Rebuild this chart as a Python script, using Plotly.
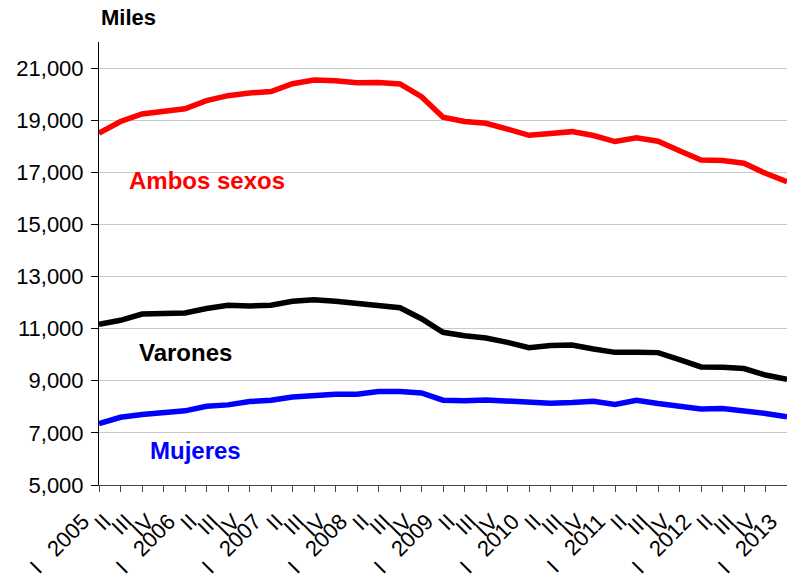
import plotly.graph_objects as go

quarters = ["2005 I", "2005 II", "2005 III", "2005 IV",
            "2006 I", "2006 II", "2006 III", "2006 IV",
            "2007 I", "2007 II", "2007 III", "2007 IV",
            "2008 I", "2008 II", "2008 III", "2008 IV",
            "2009 I", "2009 II", "2009 III", "2009 IV",
            "2010 I", "2010 II", "2010 III", "2010 IV",
            "2011 I", "2011 II", "2011 III", "2011 IV",
            "2012 I", "2012 II", "2012 III", "2012 IV",
            "2013 I"]

NB = "\u00a0"
tick_labels = []
for q in quarters:
    year, roman = q.split(" ")
    tick_labels.append(("I" + NB * 3 + year) if roman == "I" else roman)

ambos_sexos = [18500, 18950, 19240, 19350, 19440, 19750, 19940, 20040,
               20100, 20400, 20540, 20510, 20440, 20450, 20390, 19900,
               19110, 18950, 18880, 18660, 18420, 18490, 18560, 18410,
               18180, 18320, 18190, 17830, 17470, 17450, 17350, 16960,
               16640]
varones = [11170, 11320, 11560, 11575, 11600, 11770, 11900, 11870,
           11900, 12050, 12110, 12050, 11980, 11900, 11800, 11380,
           10860, 10730, 10640, 10475, 10270, 10350, 10370, 10220,
           10090, 10090, 10080, 9810, 9530, 9520, 9470, 9220,
           9060]
mujeres = [7360, 7600, 7705, 7790, 7845, 8020, 8075, 8200,
           8255, 8380, 8445, 8480, 8485, 8585, 8585, 8535,
           8255, 8230, 8265, 8215, 8165, 8140, 8165, 8215,
           8090, 8255, 8125, 8025, 7920, 7935, 7860, 7745,
           7615]

series = [("Ambos sexos", ambos_sexos, "#ff0000"),
          ("Varones", varones, "#000000"),
          ("Mujeres", mujeres, "#0000ff")]

y_ticks = [5000, 7000, 9000, 11000, 13000, 15000, 17000, 19000, 21000]

FONT = "Liberation Sans, Arial, sans-serif"

fig = go.Figure()
for name, vals, color in series:
    fig.add_trace(go.Scatter(x=quarters, y=vals, mode="lines", name=name,
                             line=dict(color=color, width=5.5)))

# series labels
label_pos = [("Ambos sexos", 5.0, 16680, "#ff0000"),
             ("Varones", 4.0, 10090, "#000000"),
             ("Mujeres", 4.5, 6340, "#0000ff")]
for text, xi, yv, color in label_pos:
    fig.add_annotation(x=xi, y=yv, xref="x", yref="y", text="<b>%s</b>" % text,
                       showarrow=False, xanchor="center", yanchor="middle",
                       font=dict(family=FONT, size=24, color=color))

fig.add_annotation(x=0, y=1.0564, xref="paper", yref="paper", text="<b>Miles</b>",
                   showarrow=False, xanchor="left", yanchor="middle",
                   font=dict(family=FONT, size=22, color="#000000"))

fig.update_layout(
    width=787, height=579,
    margin=dict(l=99, r=0, t=42, b=94, autoexpand=False),
    paper_bgcolor="white", plot_bgcolor="white",
    showlegend=False,
    font=dict(family=FONT, size=22, color="#000000"),
)
fig.update_xaxes(
    type="category", range=[0, len(quarters) - 1],
    tickmode="array", tickvals=quarters, ticktext=tick_labels,
    tickangle=-45, ticks="outside", ticklen=6, tickcolor="#444444",
    ticklabelshift=-16, ticklabelstandoff=8,
    showline=True, linecolor="#444444", linewidth=1,
    showgrid=False, automargin=False,
    tickfont=dict(family=FONT, size=22, color="#000000"),
)
fig.update_yaxes(
    range=[5000, 22000], tickmode="array", tickvals=y_ticks,
    tickformat=",d", ticks="outside", ticklen=7, tickcolor="#000000",
    ticklabelstandoff=3,
    showline=True, linecolor="#000000", linewidth=1,
    showgrid=True, gridcolor="#c8c8c8", gridwidth=1, zeroline=False,
    automargin=False,
    tickfont=dict(family=FONT, size=22, color="#000000"),
)

fig.write_html("out.html", config={"displayModeBar": False},
               post_script="document.body.style.margin='0';document.body.style.padding='0';")
